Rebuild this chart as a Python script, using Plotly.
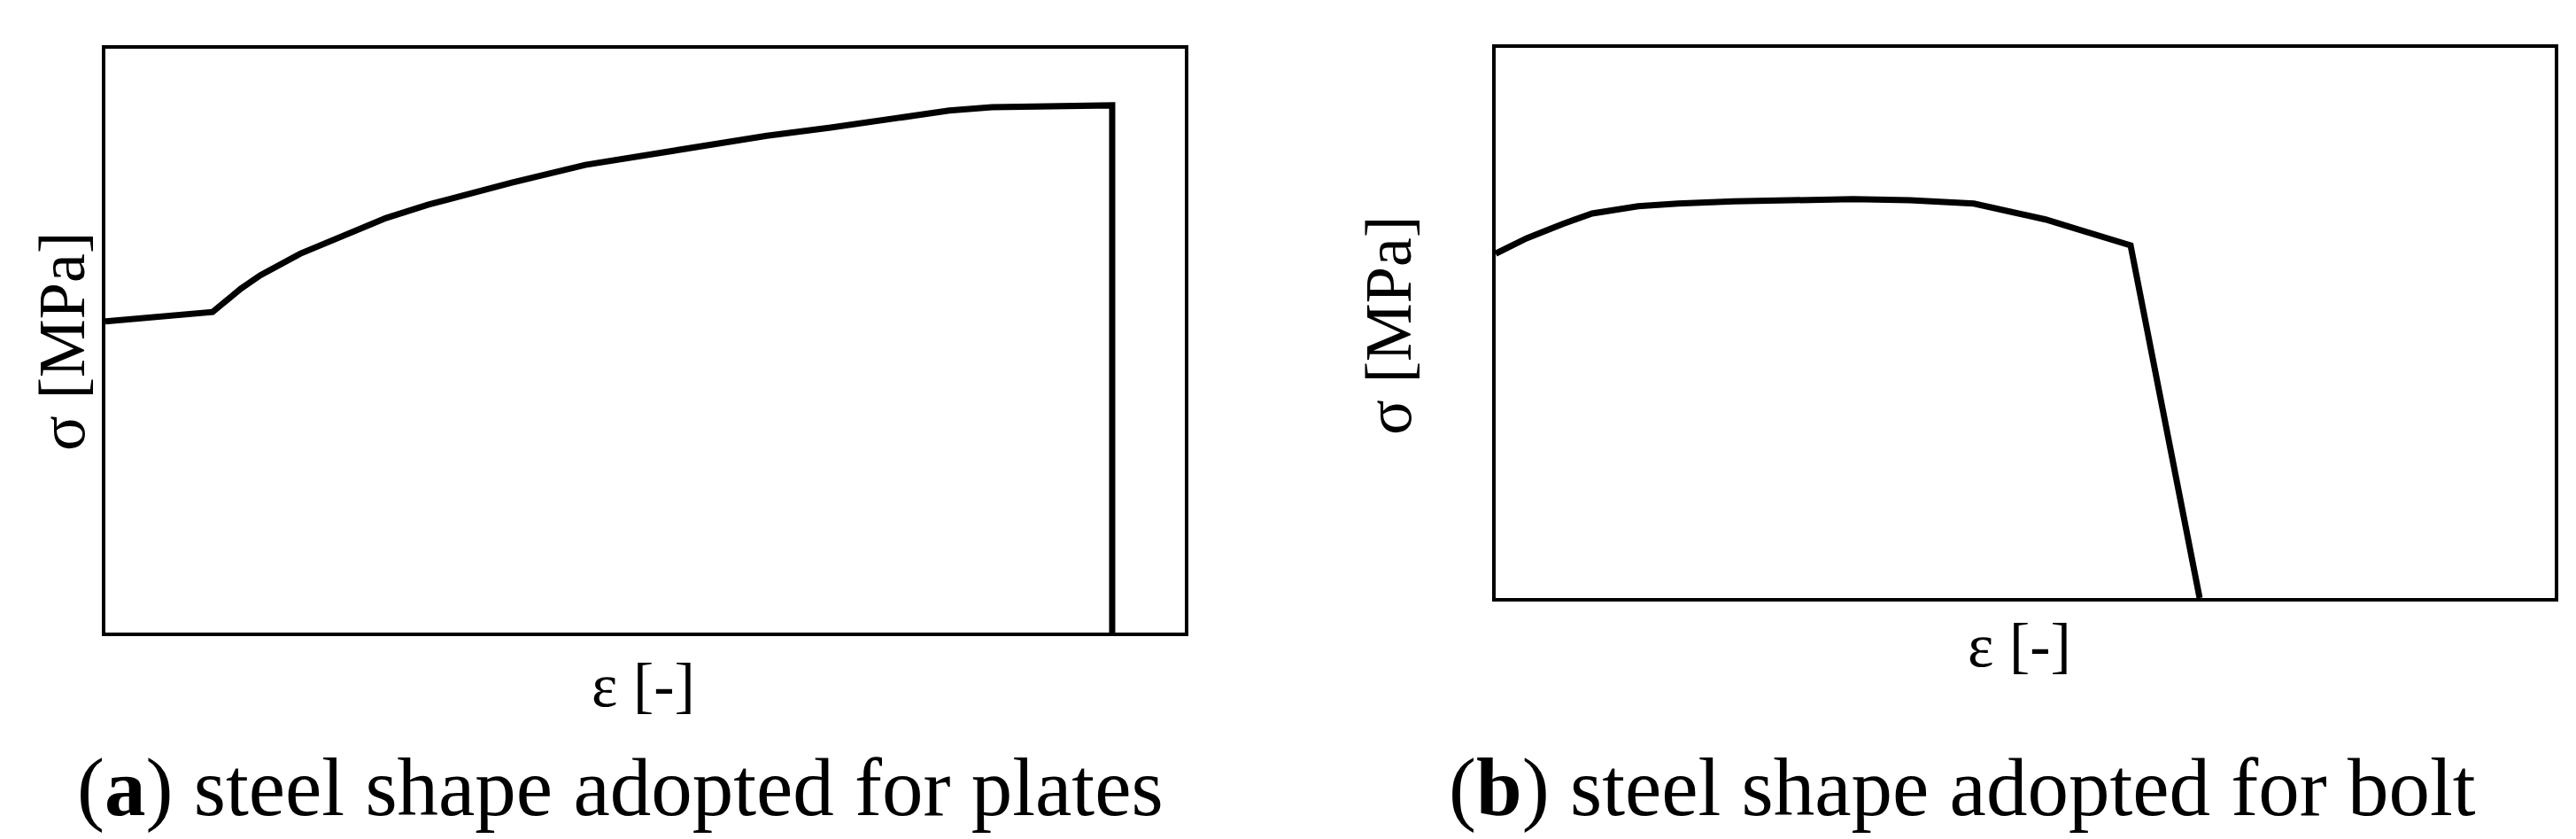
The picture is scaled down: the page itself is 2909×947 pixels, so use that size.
import plotly.graph_objects as go

W, H = 2909, 947

# Left panel: steel shape adopted for plates (relative strain / stress units, 0-100)
plates_strain = [0, 9.93, 12.55, 14.36, 18.05, 22.07, 26.0, 29.94, 33.8, 37.74, 44.46,
                 49.55, 55.46, 61.28, 67.19, 73.09, 78.18, 82.12, 86.05, 93.27, 93.27]
plates_stress = [53.3, 54.9, 58.9, 61.2, 64.9, 68.1, 71.0, 73.3, 75.3, 77.1, 80.1,
                 81.6, 83.6, 85.1, 86.5, 88.2, 89.4, 90.0, 90.1, 90.3, 0]

# Right panel: steel shape adopted for bolt
bolt_strain = [0, 2.93, 6.35, 9.11, 13.46, 17.22, 22.49, 27.76, 33.78, 39.13, 45.15,
               51.92, 59.95, 66.47]
bolt_stress = [62.6, 65.4, 68.0, 69.9, 71.2, 71.7, 72.1, 72.3, 72.5, 72.3, 71.7,
               68.8, 64.1, 0]

ylabel = "σ [MPa]"
xlabel = "ε [-]"
caption_a = "(<b>a</b>) steel shape adopted for plates"
caption_b = "(<b>b</b>) steel shape adopted for bolt"

FONT = "Liberation Serif"

fig = go.Figure()
fig.add_trace(go.Scatter(x=plates_strain, y=plates_stress, mode="lines",
                         line=dict(color="black", width=7), xaxis="x", yaxis="y",
                         showlegend=False, hoverinfo="skip"))
fig.add_trace(go.Scatter(x=bolt_strain, y=bolt_stress, mode="lines",
                         line=dict(color="black", width=7), xaxis="x2", yaxis="y2",
                         showlegend=False, hoverinfo="skip"))

def px_x(p):
    return p / W

def px_y(p):
    return 1 - p / H

ax_common = dict(showgrid=False, zeroline=False, showticklabels=False, ticks="",
                 showline=True, linecolor="black", linewidth=4, mirror=True,
                 range=[0, 100], fixedrange=True)

fig.update_layout(
    width=W, height=H,
    margin=dict(l=0, r=0, t=0, b=0),
    paper_bgcolor="white", plot_bgcolor="white",
    xaxis=dict(domain=[px_x(111), px_x(1330)], anchor="y", **ax_common),
    yaxis=dict(domain=[px_y(706), px_y(47)], anchor="x", **ax_common),
    xaxis2=dict(domain=[px_x(1681), px_x(2877)], anchor="y2", **ax_common),
    yaxis2=dict(domain=[px_y(667), px_y(46)], anchor="x2", **ax_common),
    font=dict(family=FONT, color="black"),
)

ann = [
    dict(text=ylabel, x=px_x(62), y=px_y(378), textangle=-90, size=74),
    dict(text=xlabel, x=px_x(718), y=px_y(765), textangle=0, size=70),
    dict(text=caption_a, x=px_x(692), y=px_y(880), textangle=0, size=93),
    dict(text=ylabel, x=px_x(1560), y=px_y(360), textangle=-90, size=74),
    dict(text=xlabel, x=px_x(2272), y=px_y(720), textangle=0, size=70),
    dict(text=caption_b, x=px_x(2208), y=px_y(880), textangle=0, size=93),
]
for a in ann:
    fig.add_annotation(text=a["text"], x=a["x"], y=a["y"], xref="paper", yref="paper",
                       xanchor="center", yanchor="middle", showarrow=False,
                       textangle=a["textangle"],
                       font=dict(family=FONT, size=a["size"], color="black"))

fig.write_html("out.html")
